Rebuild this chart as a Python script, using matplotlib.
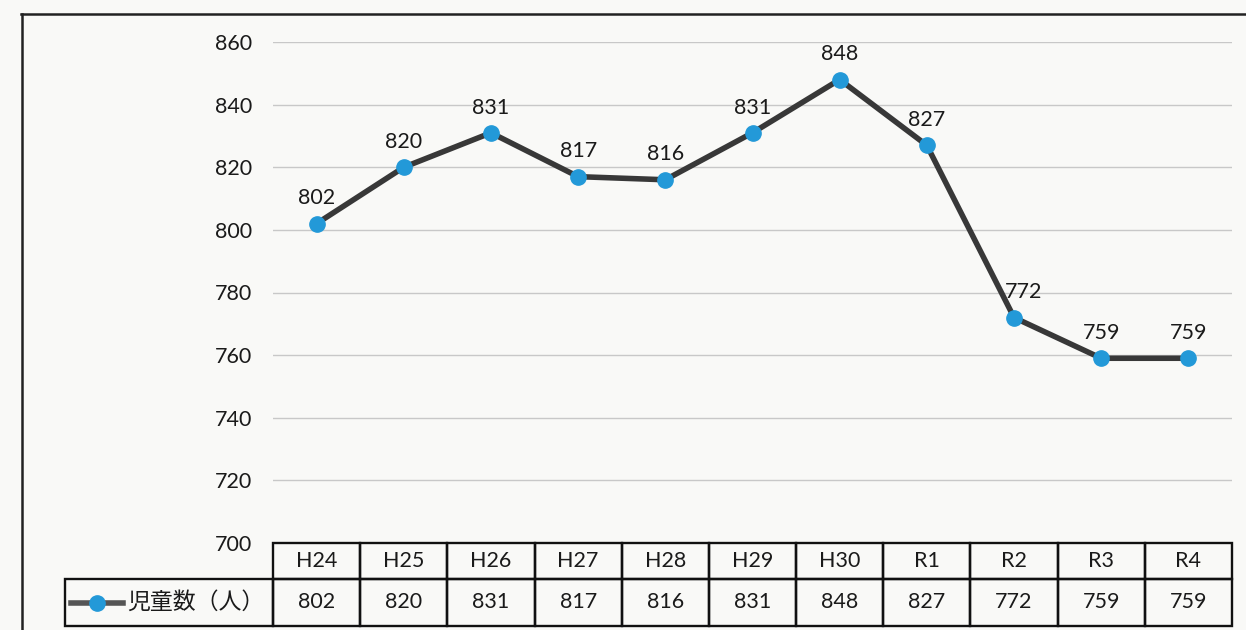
import matplotlib
matplotlib.use("Agg")
import matplotlib.pyplot as plt
from matplotlib.lines import Line2D
from matplotlib.patches import Rectangle

plt.rcParams['font.family'] = ['Lato', 'Noto Sans CJK JP', 'DejaVu Sans']

years = ["H24", "H25", "H26", "H27", "H28", "H29", "H30", "R1", "R2", "R3", "R4"]
children = [802, 820, 831, 817, 816, 831, 848, 827, 772, 759, 759]
series_name = "児童数（人）"
y_ticks = [700, 720, 740, 760, 780, 800, 820, 840, 860]

W, H = 1246, 630
fig = plt.figure(figsize=(W / 100, H / 100), dpi=100)
fig.patch.set_facecolor("#f9f9f7")

line_color = "#383838"
marker_color = "#2399d8"
grid_color = "#c8c8c8"
text_color = "#1a1a1a"

# main plot area (pixel geometry converted to figure fractions)
px_left, px_right, px_top, px_bottom = 273, 1232, 42, 543
ax = fig.add_axes([px_left / W, 1 - px_bottom / H,
                   (px_right - px_left) / W, (px_bottom - px_top) / H])
ax.set_facecolor("none")
n = len(years)
x = list(range(n))
ax.set_xlim(-0.5, n - 0.5)
ax.set_ylim(700, 860)
ax.set_yticks(y_ticks)
ax.set_xticks([])
for s in ax.spines.values():
    s.set_visible(False)
ax.tick_params(axis="y", length=0, pad=15, labelsize=15.5, labelcolor=text_color)
ax.yaxis.grid(True, color=grid_color, linewidth=1.0)
ax.set_axisbelow(True)

ax.plot(x, children, color=line_color, linewidth=4.0, solid_capstyle="round",
        marker="o", markersize=11, markerfacecolor=marker_color,
        markeredgecolor=marker_color, zorder=3, clip_on=False)

# value labels sit above each point; the steep drop into R2 pushes its label right
label_dx = [0, 0, 0, 0, 0, 0, 0, 0, 7, 0, 0]
for xi, v, dx in zip(x, children, label_dx):
    ax.annotate(str(v), (xi, v), xytext=(dx, 11), textcoords="offset points",
                ha="center", va="bottom", fontsize=15.5, color=text_color)

# data table below the plot
tb_left, tb_top, tb_bottom = 65, 543, 626
col_w = (px_right - px_left) / n
tax = fig.add_axes([tb_left / W, 1 - tb_bottom / H,
                    (px_right - tb_left) / W, (tb_bottom - tb_top) / H])
tax.set_xlim(-0.5 - (px_left - tb_left) / col_w, n - 0.5)
tax.set_ylim(0, tb_bottom - tb_top)
tax.axis("off")
tax.patch.set_visible(False)
header_h = 36
data_h = (tb_bottom - tb_top) - header_h
lw = 1.7
for i, (yr, v) in enumerate(zip(years, children)):
    tax.add_patch(Rectangle((i - 0.5, data_h), 1, header_h, fill=False,
                            edgecolor="#111111", linewidth=lw, clip_on=False))
    tax.add_patch(Rectangle((i - 0.5, 0), 1, data_h, fill=False,
                            edgecolor="#111111", linewidth=lw, clip_on=False))
    tax.text(i, data_h + header_h / 2, yr, ha="center", va="center",
             fontsize=15.5, color=text_color)
    tax.text(i, data_h / 2, str(v), ha="center", va="center",
             fontsize=15.5, color=text_color)
x0 = tax.get_xlim()[0]
tax.add_patch(Rectangle((x0, 0), -0.5 - x0, data_h, fill=False,
                        edgecolor="#111111", linewidth=lw, clip_on=False))
# legend key inside the row label cell
kx0 = x0 + 6 / col_w
kx1 = x0 + 58 / col_w
tax.add_line(Line2D([kx0, kx1], [data_h / 2, data_h / 2], color="#555555",
                    linewidth=4.0))
tax.add_line(Line2D([(kx0 + kx1) / 2], [data_h / 2], marker="o", markersize=11,
                    markerfacecolor=marker_color, markeredgecolor=marker_color))
tax.text(x0 + 62 / col_w, data_h / 2, series_name, ha="left", va="center",
         fontsize=16.5, color=text_color,
         family=["Noto Sans CJK JP", "DejaVu Sans"])

# outer frame of the page figure
fig.add_artist(Line2D([21 / W, 1.0], [1 - 14 / H, 1 - 14 / H],
                      color="#222222", linewidth=1.8))
fig.add_artist(Line2D([22 / W, 22 / W], [0, 1 - 14 / H],
                      color="#222222", linewidth=1.8))

fig.savefig("out.png", dpi=100, facecolor=fig.get_facecolor())
